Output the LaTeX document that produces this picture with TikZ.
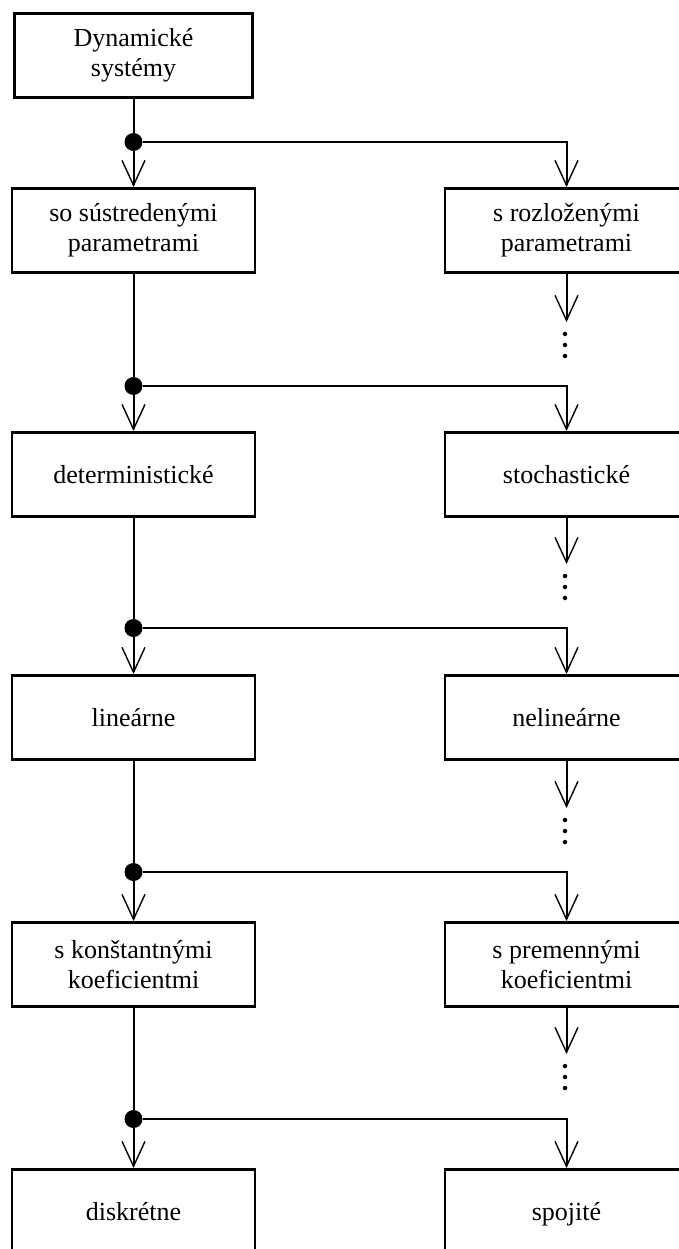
\documentclass[tikz,border=0pt]{standalone}
\usepackage{fontspec}
\setmainfont{Liberation Serif}
\usetikzlibrary{arrows.meta}
\begin{document}
\begin{tikzpicture}[x=1pt,y=-1pt,
  box/.style={draw, line width=2.8pt, minimum width=243pt, minimum height=84pt,
    inner sep=0pt, align=center, anchor=north,
    font=\fontsize{26}{30}\selectfont},
  oneline/.style={text depth=0pt},
  conn/.style={line width=2pt},
  arr/.style={-{Straight Barb[length=25pt,width=23pt,line width=1.4pt]}},
  junction/.style={circle, fill, inner sep=0pt, minimum size=18pt},
  elldot/.style={circle, fill, inner sep=0pt, minimum size=4.5pt}
]
\clip (0,0) rectangle (679,1249);

% boxes, left column
\node[box, minimum width=238pt] (dyn) at (133.5,12) {Dynamické\\systémy};
\node[box] (l2) at (133.5,187) {so sústredenými\\parametrami};
\node[box, oneline] (l3) at (133.5,431) {deterministické};
\node[box, oneline] (l4) at (133.5,674) {lineárne};
\node[box] (l5) at (133.5,921) {s konštantnými\\koeficientmi};
\node[box, oneline] (l6) at (133.5,1168) {diskrétne};

% boxes, right column
\node[box] (r2) at (566.5,187) {s rozloženými\\parametrami};
\node[box, oneline] (r3) at (566.5,431) {stochastické};
\node[box, oneline] (r4) at (566.5,674) {nelineárne};
\node[box] (r5) at (566.5,921) {s premennými\\koeficientmi};
\node[box, oneline] (r6) at (566.5,1168) {spojité};

% branching points
\node[junction] (j1) at (133.5,142) {};
\node[junction] (j2) at (133.5,386) {};
\node[junction] (j3) at (133.5,628) {};
\node[junction] (j4) at (133.5,872) {};
\node[junction] (j5) at (133.5,1119) {};

% open ends under the right column
\coordinate (t2) at (566.5,322);
\coordinate (t3) at (566.5,564);
\coordinate (t4) at (566.5,808);
\coordinate (t5) at (566.5,1054);

% vertical ellipses
\foreach \n/\y in {2/322,3/564,4/808,5/1054}{
  \node[elldot] (e\n a) at (565,\y+12) {};
  \node[elldot] (e\n b) at (565,\y+23) {};
  \node[elldot] (e\n c) at (565,\y+34) {};
}

% main trunk
\draw[conn] (dyn.south) -- (j1);
\draw[conn] (l2.south) -- (j2);
\draw[conn] (l3.south) -- (j3);
\draw[conn] (l4.south) -- (j4);
\draw[conn] (l5.south) -- (j5);

% branches to the left column
\draw[conn,arr] (j1) -- (l2.north);
\draw[conn,arr] (j2) -- (l3.north);
\draw[conn,arr] (j3) -- (l4.north);
\draw[conn,arr] (j4) -- (l5.north);
\draw[conn,arr] (j5) -- (l6.north);

% branches to the right column
\draw[conn,arr] (j1) -| (r2.north);
\draw[conn,arr] (j2) -| (r3.north);
\draw[conn,arr] (j3) -| (r4.north);
\draw[conn,arr] (j4) -| (r5.north);
\draw[conn,arr] (j5) -| (r6.north);

% continuation arrows below the right column
\draw[conn,arr] (r2.south) -- (t2);
\draw[conn,arr] (r3.south) -- (t3);
\draw[conn,arr] (r4.south) -- (t4);
\draw[conn,arr] (r5.south) -- (t5);
\end{tikzpicture}
\end{document}
